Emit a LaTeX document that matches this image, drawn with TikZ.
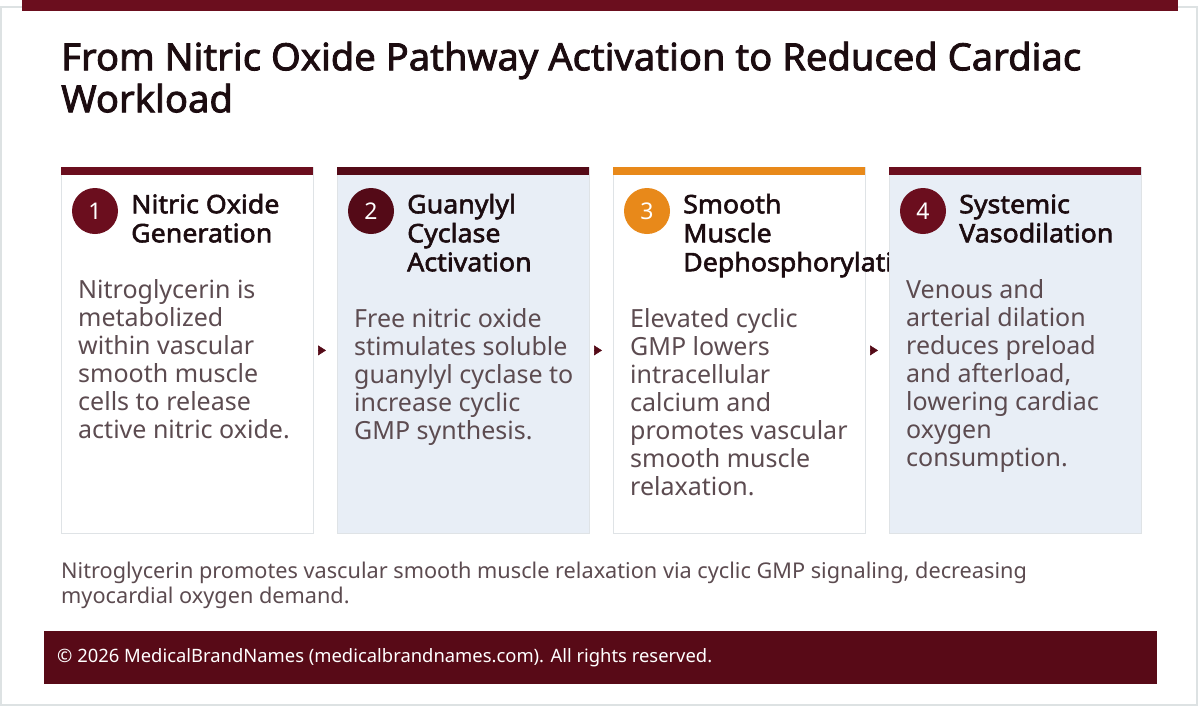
\documentclass[tikz,border=0pt]{standalone}
\usepackage{fontspec}
\setmainfont{Noto Sans}
\newfontfamily\titleface{Noto Sans}[FakeBold=2.2, FakeStretch=1.017]
\newfontfamily\headface{Noto Sans}[FakeBold=2.2, FakeStretch=1.05]
\usetikzlibrary{arrows.meta}
\definecolor{maroon}{HTML}{6B0E1E}
\definecolor{darkmaroon}{HTML}{540A17}
\definecolor{orangeacc}{HTML}{E8891A}
\definecolor{paleblue}{HTML}{E8EEF6}
\definecolor{cardline}{HTML}{DFE3E6}
\definecolor{outerline}{HTML}{DDE2E3}
\definecolor{headtxt}{HTML}{1C0C10}
\definecolor{bodytxt}{HTML}{5C4B50}
\definecolor{footbg}{HTML}{580A17}
\newcommand{\topstrut}{\rule{0pt}{0.9em}}
\tikzset{
  card/.style={draw=cardline, line width=0.8pt, minimum width=252pt, minimum height=366pt, anchor=north west, inner sep=0pt},
  stepnum/.style={circle, minimum size=46pt, inner sep=0pt, text=white, font=\fontsize{23}{24}\selectfont},
  headtext/.style={anchor=north west, inner sep=0pt, align=left, text=headtxt, font=\headface\fontsize{25.5}{29}\selectfont},
  bodytext/.style={anchor=north west, inner sep=0pt, align=left, text=bodytxt, font=\fontsize{25}{28}\selectfont},
  flowarrow/.style={-{Triangle[length=8pt,width=10pt]}, draw=darkmaroon, fill=darkmaroon, line width=0.6pt, shorten <=5pt, shorten >=11pt},
}
\begin{document}
\begin{tikzpicture}[x=1pt,y=-1pt]
\useasboundingbox (0,0) rectangle (1200,707);
% outer card
\draw[outerline, line width=1.2pt] (1,7) rectangle (1197,705);
\fill[maroon] (22,0) rectangle (1178,11);
% title
\node[anchor=north west, inner sep=0pt, align=left, text=headtxt, font=\titleface\fontsize{37.5}{42}\selectfont] (title) at (61,36.3)
  {\topstrut From Nitric Oxide Pathway Activation to Reduced Cardiac\\Workload};
% cards
\node[card, fill=white] (c1) at (61,167) {};
\node[card, fill=paleblue] (c2) at (337,167) {};
\node[card, fill=white] (c3) at (613,167) {};
\fill[maroon] (c1.north west) rectangle ++(252,8);
\fill[darkmaroon] (c2.north west) rectangle ++(252,8);
\fill[orangeacc] (c3.north west) rectangle ++(252,8);
% card 1
\node[stepnum, fill=maroon] (n1) at (95,211) {1};
\node[headtext] (h1) at (131,190.1) {\topstrut Nitric Oxide\\Generation};
\node[bodytext] (b1) at (78,275.5) {\topstrut Nitroglycerin is\\metabolized\\within vascular\\smooth muscle\\cells to release\\active nitric oxide.};
% card 2
\node[stepnum, fill=darkmaroon] (n2) at (371,211) {2};
\node[headtext] (h2) at (407,190.1) {\topstrut Guanylyl\\Cyclase\\Activation};
\node[bodytext] (b2) at (354,304.5) {\topstrut Free nitric oxide\\stimulates soluble\\guanylyl cyclase to\\increase cyclic\\GMP synthesis.};
% card 3
\node[stepnum, fill=orangeacc] (n3) at (647,211) {3};
\node[headtext] (h3) at (683,190.1) {\topstrut Smooth\\Muscle\\Dephosphorylation};
\node[bodytext] (b3) at (630,304.5) {\topstrut Elevated cyclic\\GMP lowers\\intracellular\\calcium and\\promotes vascular\\smooth muscle\\relaxation.};
% card 4 (drawn on top of the overflowing heading)
\node[card, fill=paleblue] (c4) at (889,167) {};
\fill[maroon] (c4.north west) rectangle ++(252,8);
\node[stepnum, fill=maroon] (n4) at (923,211) {4};
\node[headtext] (h4) at (959,190.1) {\topstrut Systemic\\Vasodilation};
\node[bodytext] (b4) at (906,275.5) {\topstrut Venous and\\arterial dilation\\reduces preload\\and afterload,\\lowering cardiac\\oxygen\\consumption.};
% connectors
\draw[flowarrow] (c1.east) -- (c2.west);
\draw[flowarrow] (c2.east) -- (c3.west);
\draw[flowarrow] (c3.east) -- (c4.west);
% caption
\node[anchor=north west, inner sep=0pt, align=left, text=bodytxt, font=\fontsize{21.7}{25}\selectfont] (cap) at (61,558.5)
  {\topstrut Nitroglycerin promotes vascular smooth muscle relaxation via cyclic GMP signaling, decreasing\\myocardial oxygen demand.};
% footer
\node[fill=footbg, minimum width=1113pt, minimum height=53pt, anchor=north west, inner sep=0pt] (foot) at (44,631) {};
\node[anchor=west, inner sep=0pt, text=white, font=\fontsize{18.4}{20}\selectfont] (copy) at ([xshift=13pt]foot.west)
  {© 2026 MedicalBrandNames (medicalbrandnames.com). All rights reserved.};
\end{tikzpicture}
\end{document}
